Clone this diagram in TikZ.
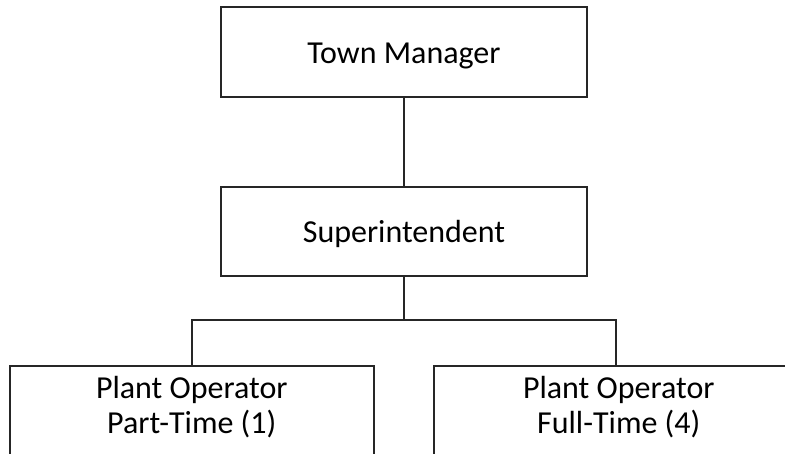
\documentclass[tikz,border=0pt]{standalone}
\usepackage{fontspec}
\setmainfont{Carlito}
\begin{document}
\begin{tikzpicture}[x=1pt,y=-1pt,
  orgbox/.style={draw=black!85, line width=1.6pt, rectangle, inner sep=0pt},
  link/.style={draw=black!85, line width=1.6pt},
  txt/.style={font=\fontsize{32}{35}\selectfont, align=center},
  oneline/.style={txt, text height=24pt, text depth=2pt}]
  \useasboundingbox (0,0) rectangle (785,453);
  % upper boxes
  \node[orgbox, oneline, minimum width=366pt, minimum height=90pt] (tm) at (404,52) {Town Manager};
  \node[orgbox, oneline, minimum width=366pt, minimum height=89pt] (su) at (404,231.5) {Superintendent};
  % lower boxes, running past the page edge
  \node[orgbox, anchor=north west, minimum width=364pt, minimum height=130pt,
        label={[txt, anchor=north, yshift=-8pt]north:{Plant Operator\\Part-Time (1)}}] (pt) at (9,365) {};
  \node[orgbox, anchor=north west, minimum width=370pt, minimum height=130pt,
        label={[txt, anchor=north, yshift=-8pt]north:{Plant Operator\\Full-Time (4)}}] (ft) at (433,365) {};
  % connectors
  \coordinate (fork) at (404,320);
  \draw[link] (tm.south) -- (su.north);
  \draw[link] (su.south) -- (fork);
  \draw[link] (pt.north -| 192,0) |- (fork) -| (ft.north -| 616,0);
\end{tikzpicture}
\end{document}
